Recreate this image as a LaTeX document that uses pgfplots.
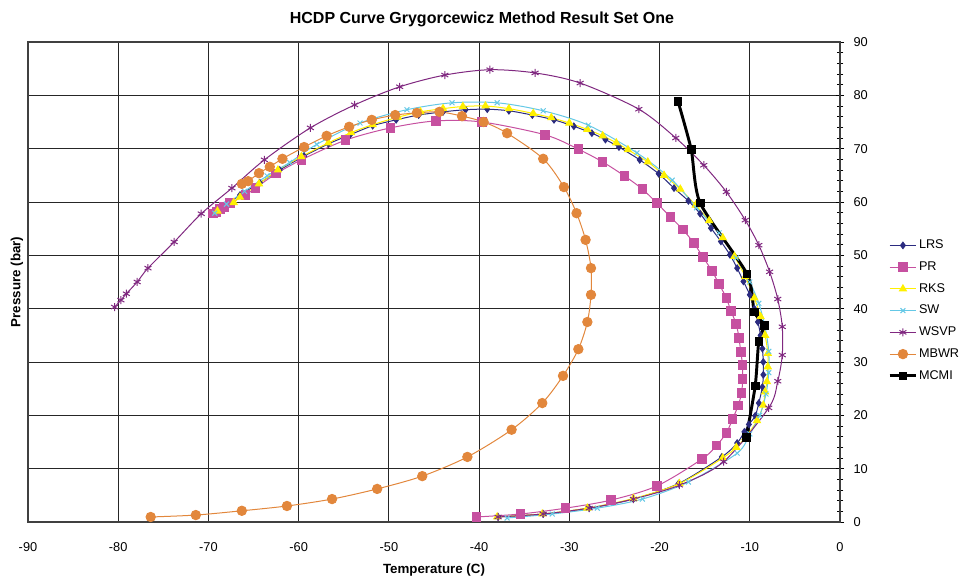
\documentclass[border=0pt]{standalone}
\usepackage{pgfplots}
\pgfplotsset{compat=1.18}
\usepackage{fontspec}
\setmainfont{Liberation Sans}
\definecolor{cLRS}{RGB}{43,43,128}
\definecolor{cPR}{RGB}{198,80,160}
\definecolor{cRKS}{RGB}{255,240,0}
\definecolor{cSW}{RGB}{100,200,230}
\definecolor{cWSVP}{RGB}{128,40,128}
\definecolor{cMBWR}{RGB}{226,135,60}
\begin{document}
\begin{tikzpicture}
\begin{axis}[
  scale only axis, width=609pt, height=360pt,
  xmin=-90, xmax=0, ymin=0, ymax=90,
  xtick={-90,-80,...,0}, ytick={0,10,...,90},
  minor y tick num=4,
  grid=major, major grid style={black!85, line width=0.7pt},
  axis line style={black!75, line width=0.8pt},
  ytick pos=right, yticklabel pos=right,
  xtick style={draw=none},
  ytick style={black, line width=0.6pt},
  tick align=center, major tick length=6pt, minor tick length=5pt,
  /pgf/number format/assume math mode=true,
  tick label style={font=\fontsize{9.6}{11}\selectfont},
  xticklabel style={anchor=center, yshift=-15.5pt},
  yticklabel style={anchor=west, inner sep=0pt, xshift=7pt},
  title={HCDP Curve Grygorcewicz Method Result Set One},
  title style={at={(rel axis cs:0.559,1)}, anchor=center, yshift=11pt, font=\fontsize{12}{14}\selectfont\bfseries},
  xlabel={Temperature (C)},
  every axis x label/.style={at={(rel axis cs:0.5,0)}, anchor=center, yshift=-36pt, font=\fontsize{10}{12}\selectfont\bfseries},
  ylabel={Pressure (bar)},
  every axis y label/.style={at={(rel axis cs:-0.0136,0.5)}, anchor=center, rotate=90, font=\fontsize{10}{12}\selectfont\bfseries},
  legend image code/.code={\draw[mark repeat=2,mark phase=2] plot coordinates {(0cm,0cm) (0.35cm,0cm) (0.7cm,0cm)};},
  legend style={at={(rel axis cs:1.059,0.592)}, anchor=north west, draw=none, fill=none, inner sep=0pt,
    font=\fontsize{9.5}{11}\selectfont, row sep=5.3pt,
    nodes={inner sep=1pt, text height=7pt, text depth=2pt}},
  legend cell align=left,
]
\coordinate (bl) at (rel axis cs:0,0);
\coordinate (tr) at (rel axis cs:1,1);
% LRS
\addplot[cLRS, line width=0.75pt, smooth, mark=diamond*, mark size=2.4pt, mark options={fill=cLRS}] coordinates {
(-69.3,58.0) (-68.9,58.3) (-68.0,59.5) (-66.5,61.3) (-64.3,63.6) (-62.1,66.0) (-59.4,68.6) (-56.7,70.9) (-54.3,72.6) (-51.8,74.3) (-49.2,75.4) (-46.7,76.3) (-44.0,76.9) (-41.5,77.3) (-39.1,77.4) (-36.7,77.1) (-34.1,76.3) (-31.7,75.4) (-29.5,74.2) (-27.5,72.9) (-26.0,71.7) (-24.5,70.3) (-22.2,67.9) (-20.1,65.3) (-18.4,62.6) (-16.8,60.2) (-15.5,57.8) (-14.3,55.1) (-13.2,52.6) (-12.2,50.1) (-11.4,47.6) (-10.7,45.1) (-10.0,42.6) (-9.5,40.0) (-9.1,37.5) (-8.8,35.0) (-8.6,32.5) (-8.5,30.0) (-8.5,27.6) (-8.6,25.3) (-9.0,22.3) (-9.4,19.9) (-10.1,18.3) (-10.6,16.9) (-11.4,14.8) (-13.1,12.2) (-17.9,7.2) (-22.9,4.3) (-27.8,2.6) (-32.9,1.5) (-37.9,0.94)
};
% PR
\addplot[cPR, line width=0.75pt, smooth, mark=square*, mark size=3.2pt, mark options={fill=cPR}] coordinates {
(-69.5,57.8) (-69.1,58.1) (-68.7,58.7) (-68.3,59.1) (-67.6,59.8) (-65.9,61.3) (-64.8,62.6) (-62.5,65.3) (-59.7,67.9) (-54.8,71.6) (-49.8,73.9) (-44.8,75.2) (-39.7,75.0) (-32.7,72.6) (-29.0,69.9) (-26.3,67.5) (-23.9,64.9) (-21.9,62.4) (-20.3,59.8) (-18.8,57.2) (-17.4,54.8) (-16.2,52.3) (-15.2,49.7) (-14.2,47.1) (-13.4,44.6) (-12.6,42.0) (-12.1,39.6) (-11.5,37.1) (-11.2,34.5) (-11.0,31.9) (-10.8,29.4) (-10.8,26.8) (-10.9,24.2) (-11.3,21.8) (-11.9,19.3) (-12.6,16.7) (-13.7,14.3) (-15.3,11.8) (-20.3,6.75) (-25.4,4.1) (-30.4,2.6) (-35.4,1.5) (-40.3,0.94)
};
% RKS
\addplot[cRKS, line width=0.75pt, smooth, mark=triangle*, mark size=3pt, mark options={fill=cRKS}] coordinates {
(-69.0,58.3) (-67.2,59.9) (-66.5,60.9) (-64.4,63.4) (-62.3,66.0) (-59.7,68.5) (-56.7,71.1) (-54.2,73.0) (-51.8,74.5) (-49.0,75.9) (-46.5,76.9) (-44.0,77.5) (-41.8,77.9) (-39.3,78.0) (-36.7,77.5) (-34.0,76.6) (-32.0,75.8) (-30.0,74.8) (-28.0,73.6) (-26.3,72.4) (-24.8,71.1) (-23.5,69.8) (-21.3,67.5) (-19.5,65.0) (-17.7,62.4) (-16.0,59.4) (-14.5,56.5) (-13.0,53.3) (-11.7,49.8) (-10.5,46.0) (-9.5,42.0) (-8.8,38.5) (-8.3,35.0) (-8.0,31.6) (-8.0,29.1) (-8.1,26.3) (-8.3,24.4) (-8.5,21.9) (-9.2,19.0) (-10.5,15.8) (-11.5,14.0) (-13.0,12.0) (-17.8,7.2) (-22.9,4.4) (-28.0,2.6) (-33.0,1.5) (-38.0,0.94)
};
% SW
\addplot[cSW, line width=0.75pt, smooth, mark=x, mark size=2.6pt] coordinates {
(-69.3,57.9) (-68.0,59.6) (-66.0,62.0) (-63.5,64.9) (-61.0,67.4) (-58.0,70.8) (-53.2,74.8) (-48.0,77.3) (-43.0,78.6) (-38.0,78.6) (-32.9,77.1) (-27.9,74.4) (-22.5,69.2) (-18.6,64.1) (-15.9,58.9) (-13.4,54.2) (-11.5,49.5) (-10.0,45.0) (-9.0,41.0) (-8.3,36.5) (-7.9,32.0) (-7.9,28.0) (-8.2,24.0) (-8.9,20.0) (-10.0,16.5) (-11.4,12.9) (-16.8,7.5) (-21.9,4.3) (-26.9,2.6) (-31.9,1.5) (-36.9,0.75)
};
% WSVP
\addplot[cWSVP, line width=0.75pt, smooth, mark=asterisk, mark size=3pt] coordinates {
(-80.4,40.3) (-79.7,41.6) (-79.1,42.8) (-77.9,45.0) (-76.7,47.6) (-73.8,52.5) (-70.8,57.8) (-67.4,62.6) (-63.8,67.9) (-58.7,73.9) (-53.8,78.2) (-48.8,81.6) (-43.8,83.8) (-38.8,84.8) (-33.8,84.2) (-28.8,82.3) (-22.3,77.4) (-18.2,72.0) (-15.1,66.9) (-12.6,61.9) (-10.5,56.6) (-9.0,51.9) (-7.8,46.9) (-6.9,41.8) (-6.4,36.6) (-6.4,31.3) (-6.9,26.4) (-7.9,21.4) (-12.9,11.3) (-17.8,6.9) (-22.9,4.3) (-27.8,2.6) (-32.9,1.5) (-37.9,0.94)
};
% MBWR
\addplot[cMBWR, line width=0.75pt, smooth, mark=*, mark size=3.5pt, mark options={fill=cMBWR}] coordinates {
(-76.4,0.94) (-71.4,1.3) (-66.3,2.1) (-61.3,3.0) (-56.3,4.3) (-51.3,6.2) (-46.3,8.6) (-41.3,12.2) (-36.4,17.3) (-33.0,22.3) (-30.7,27.4) (-29.0,32.4) (-28.0,37.5) (-27.6,42.6) (-27.6,47.6) (-28.2,52.9) (-29.2,57.9) (-30.6,62.8) (-32.9,68.1) (-36.9,72.9) (-39.5,75.0) (-41.9,76.1) (-44.4,76.9) (-46.9,76.7) (-49.3,76.3) (-51.9,75.4) (-54.4,74.1) (-56.9,72.4) (-59.4,70.3) (-61.8,68.1) (-63.2,66.6) (-64.4,65.4) (-65.6,63.9) (-66.3,63.4)
};
% MCMI
\addplot[black, line width=2.2pt, smooth, tension=0.4, mark=square*, mark size=2.8pt, mark options={fill=black, line width=0.5pt}] coordinates {
(-17.96,78.9) (-16.5,69.9) (-15.5,59.8) (-10.3,46.5) (-9.5,39.4) (-8.4,36.9) (-9.0,33.9) (-9.4,25.5) (-10.4,15.9)
};
\legend{LRS,PR,RKS,SW,WSVP,MBWR,MCMI}
\end{axis}
\pgfresetboundingbox
\path ([shift={(-21pt,-45pt)}]bl) rectangle ([shift={(93pt,31.5pt)}]tr);
\end{tikzpicture}
\end{document}
